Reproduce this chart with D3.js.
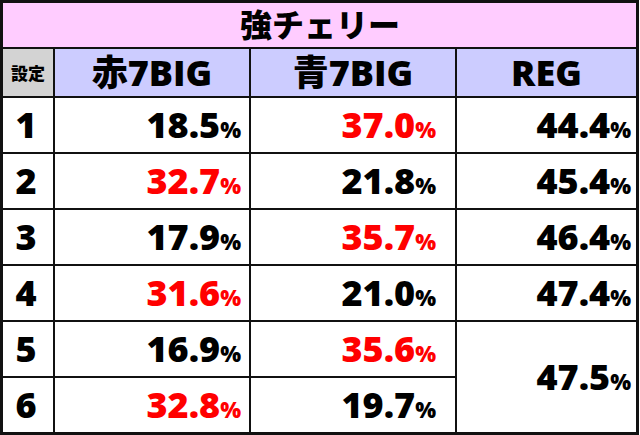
<!DOCTYPE html>
<html><head><meta charset="utf-8">
<script src="https://cdn.jsdelivr.net/npm/d3@7"></script>
<style>body{margin:0;background:#fff}</style>
</head><body><div id="chart"></div>
<script>
var title = "強チェリー";
var headers = ["設定", "赤7BIG", "青7BIG", "REG"];
var settings = ["1", "2", "3", "4", "5", "6"];
var red7 = [18.5, 32.7, 17.9, 31.6, 16.9, 32.8];
var blue7 = [37.0, 21.8, 35.7, 21.0, 35.6, 19.7];
var reg = [44.4, 45.4, 46.4, 47.4, 47.5, 47.5];
var redHi = [[1, 3, 5], [0, 2, 4]];

var W = 640, H = 435;
var svg = d3.select("#chart").append("svg").attr("width", W).attr("height", H)
  .style("font-family", "'Noto Sans CJK JP', 'Noto Sans', sans-serif").style("font-weight", "900");

var colX = [2, 54, 250, 456, 637];
var rowY = d3.scaleLinear().domain([0, 6]).range([97, 433]);
var font = "'Noto Sans CJK JP'";
var num = "'Open Sans', sans-serif";

svg.append("rect").attr("x", 2).attr("y", 2).attr("width", 635).attr("height", 46).attr("fill", "#ffccff");
svg.append("text").attr("x", 320).attr("y", 37).attr("text-anchor", "middle").attr("font-size", 32).text(title);

headers.forEach(function (h, i) {
  svg.append("rect").attr("x", colX[i]).attr("y", 48).attr("width", colX[i + 1] - colX[i]).attr("height", 49)
    .attr("fill", i == 0 ? "#d3d3d3" : "#ccccff");
  svg.append("text").attr("x", (colX[i] + colX[i + 1]) / 2).attr("y", i == 0 ? 80 : 86)
    .attr("text-anchor", "middle").attr("font-size", i == 0 ? 17 : 36)
    .style("font-weight", i == 0 ? "900" : "800")
    .style("font-family", i == 0 ? font : "'Open Sans', " + font).text(h);
});

function cell(x, y, v, red) {
  var t = svg.append("text").attr("x", x).attr("y", y).attr("text-anchor", "end")
    .attr("fill", red ? "#ff0000" : "#000").style("font-family", num).style("font-weight", "800");
  t.append("tspan").attr("font-size", 36).text(v.toFixed(1));
  t.append("tspan").attr("font-size", 22).text("%");
}

settings.forEach(function (s, i) {
  var y = rowY(i + 0.5) + 13;
  svg.append("text").attr("x", 26).attr("y", y).attr("text-anchor", "middle").attr("font-size", 36)
    .style("font-family", num).style("font-weight", "800").text(s);
  cell(241, y, red7[i], redHi[0].indexOf(i) >= 0);
  cell(436, y, blue7[i], redHi[1].indexOf(i) >= 0);
  if (i < 4) cell(631, y, reg[i], false);
});
cell(631, rowY(5) + 13, reg[4], false);

// grid lines
var g = svg.append("g").attr("stroke", "#111").attr("fill", "none");
d3.range(0, 7).forEach(function (r) {
  var x2 = (r == 5) ? colX[3] : colX[4];
  g.append("line").attr("x1", colX[0]).attr("x2", x2).attr("y1", rowY(r)).attr("y2", rowY(r)).attr("stroke-width", 2);
});
g.append("line").attr("x1", colX[0]).attr("x2", colX[4]).attr("y1", 48).attr("y2", 48).attr("stroke-width", 2);
colX.slice(1, 4).forEach(function (x) {
  g.append("line").attr("x1", x).attr("x2", x).attr("y1", 48).attr("y2", 433).attr("stroke-width", 2);
});
g.append("rect").attr("x", 1.5).attr("y", 1.5).attr("width", 636).attr("height", 432).attr("stroke-width", 3);
</script></body></html>
